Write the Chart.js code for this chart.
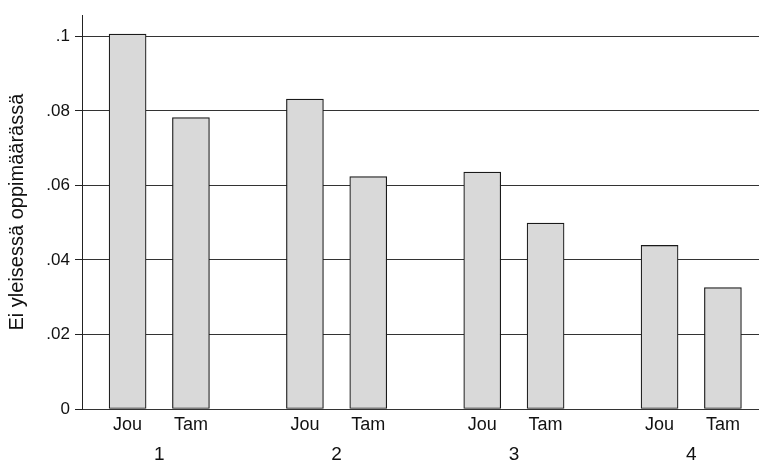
<!DOCTYPE html>
<html lang="fi">
<head>
  <meta charset="UTF-8" />
  <title>Ei yleisessä oppimäärässä</title>
  <script src="https://cdn.jsdelivr.net/npm/chart.js"></script>
  <style>
    html, body { margin: 0; padding: 0; background: #fff; }
    #wrap { width: 759px; height: 463px; }
  </style>
</head>
<body>
  <div id="wrap"><canvas id="kaavio"></canvas></div>

  <script>
    // Data luettu kuvasta
    const ryhmat = ['1', '2', '3', '4'];
    const sarjat = ['Jou', 'Tam'];
    const jouArvot = [0.1006, 0.0832, 0.0636, 0.0439];
    const tamArvot = [0.0782, 0.0624, 0.0499, 0.0326];
    const yTikit = [0, 0.02, 0.04, 0.06, 0.08, 0.1];
    const yOtsikko = 'Ei yleisessä oppimäärässä';

    // ryhmien väli palkkiväleinä
    const ryhmaVali = 2.8;
    const arvot = [jouArvot, tamArvot];

    const pisteet = [];
    const xTikit = [];
    ryhmat.forEach((r, i) => {
      sarjat.forEach((s, j) => {
        const x = i * ryhmaVali + j;
        pisteet.push({ x: x, y: arvot[j][i] });
        xTikit.push({ value: x, label: s });
      });
    });
    const ryhmaTikit = ryhmat.map((r, i) => ({ value: i * ryhmaVali + 0.5, label: r }));

    const fontti = "'Liberation Sans', Arial, sans-serif";
    const xMin = -0.72;
    const xMax = (ryhmat.length - 1) * ryhmaVali + 1 + 0.57;

    new Chart(document.getElementById('kaavio'), {
      type: 'bar',
      data: {
        datasets: [{
          data: pisteet,
          backgroundColor: '#d9d9d9',
          borderColor: '#1a1a1a',
          borderWidth: 1.2,
          borderSkipped: false,
          barThickness: 37
        }]
      },
      options: {
        responsive: true,
        maintainAspectRatio: false,
        animation: false,
        layout: { padding: { top: 11, right: 0, left: 0, bottom: 0 } },
        plugins: { legend: { display: false }, tooltip: { enabled: false } },
        scales: {
          x: {
            type: 'linear',
            offset: false,
            min: xMin,
            max: xMax,
            afterBuildTicks: a => { a.ticks = xTikit.map(t => ({ value: t.value })); },
            afterFit: a => { a.height = 30; },
            ticks: {
              autoSkip: false,
              maxRotation: 0,
              padding: 5,
              color: '#111',
              font: { family: fontti, size: 18 },
              callback: (v, i) => xTikit[i].label
            },
            grid: { display: false, drawTicks: false },
            border: { display: false }
          },
          x2: {
            type: 'linear',
            position: 'bottom',
            offset: false,
            min: xMin,
            max: xMax,
            afterBuildTicks: a => { a.ticks = ryhmaTikit.map(t => ({ value: t.value })); },
            afterFit: a => { a.height = 24; },
            ticks: {
              autoSkip: false,
              maxRotation: 0,
              padding: 4,
              color: '#111',
              font: { family: fontti, size: 19 },
              callback: (v, i) => ryhmaTikit[i].label
            },
            grid: { display: false, drawTicks: false },
            border: { display: false }
          },
          y: {
            min: 0,
            max: 0.1057,
            afterBuildTicks: a => { a.ticks = yTikit.map(v => ({ value: v })); },
            afterFit: a => { a.width = 82; },
            ticks: {
              padding: 5,
              color: '#111',
              font: { family: fontti, size: 17 },
              callback: v => String(v).replace(/^0\./, '.')
            },
            grid: { color: '#333', lineWidth: 1, tickLength: 7, tickColor: '#222' },
            border: { display: true, color: '#222', width: 1 },
            title: {
              display: true,
              text: yOtsikko,
              color: '#111',
              font: { family: fontti, size: 20 },
              padding: { top: 5, bottom: 0 }
            }
          }
        }
      }
    });
  </script>
</body>
</html>
